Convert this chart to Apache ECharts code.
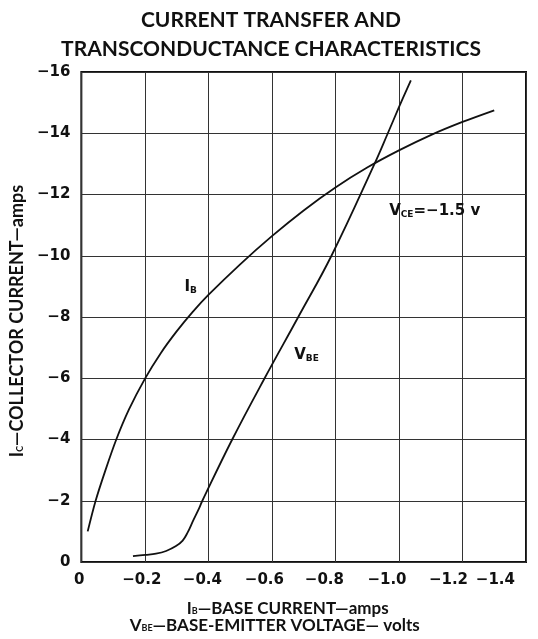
<!DOCTYPE html>
<html><head><meta charset="utf-8">
<script src="https://cdn.jsdelivr.net/npm/echarts@6/dist/echarts.min.js"></script>
<style>html,body{margin:0;padding:0;background:#fff}#c{width:538px;height:639px}</style>
</head><body><div id="c"></div>
<script>
// I_B curve: [base current (A), collector current (A)]
const ibCurve = [[-0.02,-1.0],[-0.045,-2],[-0.076,-3],[-0.11,-4],[-0.15,-4.98],[-0.2,-5.98],[-0.25,-6.82],[-0.3,-7.53],[-0.35,-8.16],[-0.4,-8.72],[-0.5,-9.72],[-0.6,-10.64],[-0.7,-11.48],[-0.8,-12.23],[-0.9,-12.88],[-1.0,-13.44],[-1.1,-13.94],[-1.2,-14.37],[-1.3,-14.75]];
// V_BE curve: [base-emitter voltage (V), collector current (A)]
const vbeCurve = [[-0.1625,-0.19],[-0.202,-0.23],[-0.235,-0.27],[-0.267,-0.36],[-0.298,-0.52],[-0.319,-0.70],[-0.334,-0.95],[-0.352,-1.35],[-0.371,-1.76],[-0.381,-2],[-0.475,-4],[-0.577,-6],[-0.683,-8],[-0.7875,-10],[-0.923,-13],[-0.965,-14],[-1.0,-14.85],[-1.0375,-15.73]];
const xTickLabels = ['0','\u22120.2','\u22120.4','\u22120.6','\u22120.8','\u22121.0','\u22121.2','\u22121.4'];
const yTickLabels = ['0','\u22122','\u22124','\u22126','\u22128','\u221210','\u221212','\u221214','\u221216'];
const ibLabelAt = [-0.344,-8.99];
const vbeLabelAt = [-0.709,-6.76];
const vceLabelAt = [-1.1125,-11.46];

const FONT = 'Lato';
const TFONT = 'DejaVu Sans';
const subRich = {
  m: {fontSize: 15, fontWeight: 'bold', fontFamily: TFONT, color: '#111'},
  s: {fontSize: 9, fontWeight: 'bold', fontFamily: TFONT, color: '#111', padding: [7,0,0,0]}
};
function mp(coord, text) {
  return {coord: coord, symbol: 'circle', symbolSize: 1, itemStyle: {color: 'rgba(0,0,0,0)'},
    label: {show: true, position: 'inside', formatter: text, rich: subRich}};
}
// per-label leftward nudge of x tick labels (style only)
const xNudge = [4, 6, 12, 15, 22, 24, 28, 11];
const xRich = {};
xNudge.forEach((p, k) => { xRich['n' + k] = {fontFamily: TFONT, fontWeight: 'bold', fontSize: 15, color: '#111', padding: [0, p, 0, 0]}; });

const nameM = {fontSize: 17, fontWeight: 'bold', fontFamily: FONT, color: '#111', lineHeight: 17};
const nameS = {fontSize: 9, fontWeight: 'bold', fontFamily: FONT, color: '#111', padding: [6,0,0,0]};

const chart = echarts.init(document.getElementById('c'));
chart.setOption({
  backgroundColor: '#fff',
  animation: false,
  title: {
    text: 'CURRENT TRANSFER AND\nTRANSCONDUCTANCE CHARACTERISTICS',
    left: 266, textAlign: 'center', top: 1,
    textStyle: {fontFamily: FONT, fontWeight: 'bold', fontSize: 21, lineHeight: 29, color: '#111'}
  },
  grid: {left: 78, right: 12, top: 72, bottom: 71, show: true, borderColor: '#111', borderWidth: 2, backgroundColor: 'transparent'},
  xAxis: {
    type: 'value', min: -1.4, max: 0, interval: 0.2, inverse: true,
    axisLine: {show: false, onZero: false}, axisTick: {show: false},
    splitLine: {show: true, lineStyle: {color: '#333', width: 1}},
    axisLabel: {margin: 11, alignMinLabel: 'right', alignMaxLabel: 'center', fontFamily: TFONT, fontWeight: 'bold', fontSize: 15, color: '#111',
      rich: xRich,
      formatter: v => { const k = Math.round(-v / 0.2); return '{n' + k + '|' + xTickLabels[k] + '}'; }},
    name: '{i1|I}{s|B}{m|\u2014BASE CURRENT\u2014amps}\n{m|V}{s|BE}{m|\u2014BASE-EMITTER VOLTAGE\u2014 volts}',
    nameLocation: 'middle', nameGap: 38,
    nameTextStyle: {padding: [0,58,0,0], lineHeight: 17,
      rich: {m: nameM, i1: Object.assign({}, nameM, {padding: [0,0,0,26]}), s: nameS}}
  },
  yAxis: {
    type: 'value', min: -16, max: 0, interval: 2, inverse: true,
    axisLine: {show: false}, axisTick: {show: false},
    splitLine: {show: true, lineStyle: {color: '#333', width: 1}},
    axisLabel: {margin: 11, fontFamily: TFONT, fontWeight: 'bold', fontSize: 15, color: '#111',
      formatter: v => yTickLabels[Math.round(-v / 2)]},
    name: '{m|I}{s|C}{m|\u2014COLLECTOR CURRENT\u2014amps}',
    nameLocation: 'middle', nameGap: 51,
    nameTextStyle: {padding: [0,8,0,0],
      rich: {m: {fontSize: 18, fontWeight: 'bold', fontFamily: FONT, color: '#111'},
             s: {fontSize: 9, fontWeight: 'bold', fontFamily: FONT, color: '#111', padding: [7,0,0,0]}}}
  },
  series: [
    {type: 'line', name: 'IB', data: ibCurve, showSymbol: false, symbol: 'none', smooth: 0.3,
      lineStyle: {color: '#111', width: 1.8},
      markPoint: {silent: true, data: [mp(ibLabelAt, '{m|I}{s|B}')]}},
    {type: 'line', name: 'VBE', data: vbeCurve, showSymbol: false, symbol: 'none', smooth: 0.4,
      lineStyle: {color: '#111', width: 1.8},
      markPoint: {silent: true, data: [mp(vbeLabelAt, '{m|V}{s|BE}'), mp(vceLabelAt, '{m|V}{s|CE}{m|=\u22121.5 v}')]}}
  ]
});
</script></body></html>
